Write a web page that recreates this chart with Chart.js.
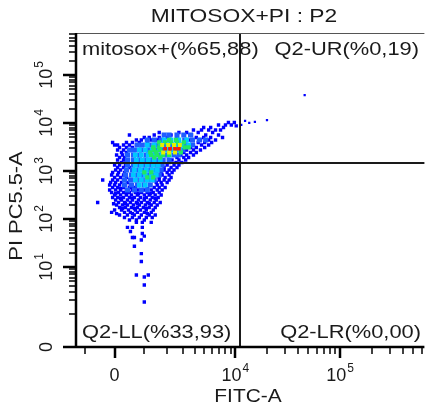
<!DOCTYPE html>
<html>
<head>
<meta charset="utf-8">
<script src="https://cdn.jsdelivr.net/npm/chart.js@4.4.1/dist/chart.umd.min.js"></script>
<style>
  html, body { margin: 0; padding: 0; background: #fff; }
</style>
</head>
<body>
<canvas id="plot" width="428" height="412"></canvas>
<script>
// ---- data: FITC-A (x) and PI PC5.5-A (y) events, grouped by density colour ----
// each row: [PI value, [FITC values...]]
const blueRows = [
    [10240, [8577, 9780]], [9100, [6874, 8030, 9150]], [8700, [10200]],
    [8060, [4915, 5760, 7686]], [7150, [3882, 4680, 5503, 6430, 7190]],
    [6340, [1624, 2740, 3305, 4336, 6020]],
    [5620, [471, 1397, 1867, 2247, 3086, 3710, 5150, 6874]],
    [4990, [993, 1187, 1624, 2025, 2611, 4150, 4915, 5760, 7520]],
    [4430, [705, 882, 1269, 1531, 3467, 4565, 5503, 6430]],
    [3930, [-62, 374, 570, 810, 1109, 4336, 5030, 5890]],
    [3480, [0, 93, 280, 471, 705, 3882, 4680, 5503]],
    [3090, [155, 374, 570, 3625, 4150, 5030]],
    [2740, [93, 280, 471, 3305, 3882, 4565]],
    [2430, [217, 374, 3086, 3625, 4150]],
    [2155, [62, 248, 406, 2873, 3305, 3882]],
    [1910, [155, 311, 2611, 3086, 3467]],
    [1695, [93, 280, 438, 2306, 2740, 3230]],
    [1504, [217, 374, 2134, 2548, 2942]],
    [1334, [0, 155, 342, 2025, 2425, 2740]],
    [1183, [93, 280, 471, 1867, 2247, 2611]],
    [1049, [31, 186, 374, 1867, 2134, 2425]],
    [931, [-62, 124, 311, 1719, 2025, 2306]],
    [826, [-93, 93, 280, 1768, 2134]],
    [732, [0, 186, 374, 1624, 1919, 2247]],
    [650, [-375, -62, 93, 280, 1624, 1867, 2134]],
    [576, [-124, 31, 217, 406, 1486, 1719, 2025]],
    [511, [-155, 0, 155, 342, 504, 1531, 1768]],
    [453, [-62, 93, 280, 471, 671, 1397, 1624, 1919]],
    [428, [186, 570, 1109]],
    [402, [-155, 31, 186, 374, 570, 775, 993, 1269, 1531, 1768]],
    [357, [-93, 124, 280, 471, 671, 882, 1109, 1354, 1624]],
    [336, [31, 374, 775, 1228]],
    [316, [0, 186, 374, 537, 740, 993, 1187, 1441, 1719]],
    [281, [-62, 93, 280, 471, 637, 846, 1070, 1311, 1577]],
    [265, [186, 570, 993, 1441]],
    [249, [31, 217, 406, 570, 775, 993, 1228, 1486]],
    [221, [-540, 124, 311, 504, 705, 882, 1109, 1397, 1671]],
    [208, [-31, 342, 740, 1187]],
    [196, [62, 248, 406, 603, 810, 1031, 1269, 1531]],
    [174, [155, 342, 537, 740, 955, 1187, 1441]],
    [164, [248, 637, 1070]],
    [154, [0, 217, 438, 671, 846, 1070, 1354]],
    [137, [-93, 311, 504, 740, 993, 1269]],
    [129, [62, 570, 1109]],
    [121, [155, 406, 637, 882, 1187, 1441]],
    [107, [311, 570, 810, 1070, 1311]],
    [95, [471, 705, 993]], [85, [705, 918, 1269]], [67, [406, 570, 918]],
    [55, [504]], [50, [918]], [44, [993]], [41, [570, 637]], [36.5, [882]],
    [27, [637]], [19, [882]], [13, [882]], [6.8, [705, 1148]], [6.2, [993]],
    [4.2, [993]], [1.84, [993]]
];
const azureRows = [
    [5620, [1867, 2134, 2611, 3086, 3625]],
    [4430, [1109, 1397, 1719, 2134, 2611, 3158, 3795, 4450, 5150]],
    [3480, [740, 918, 1187, 1486, 1867, 2247, 2740, 3230, 3795]],
    [2740, [471, 637, 882, 1148, 1441, 1768, 2134, 2548, 3013]],
    [2155, [406, 603, 810, 1070, 1354, 1671, 2025, 2425, 2740]],
    [1695, [406, 603, 810, 1031, 1269, 1531, 1817, 2134]],
    [1334, [406, 603, 810, 1031, 1269, 1531, 1768]],
    [1049, [374, 570, 775, 993, 1228, 1486, 1719]],
    [826, [342, 537, 740, 955, 1187, 1441, 1624]],
    [650, [311, 504, 705, 918, 1148, 1397]],
    [511, [311, 537, 740, 993, 1228]],
    [402, [406, 637, 882, 1109]]
];
const cyanRows = [
    [4430, [1867, 2247, 2740, 3305]],
    [3480, [1109, 1397, 1719, 2079, 2486, 2942, 3467]],
    [2740, [810, 1031, 1311, 1624, 1972, 2365, 2806]],
    [2155, [671, 882, 1148, 1441, 1768, 2134]],
    [1695, [705, 918, 1148, 1397, 1671]],
    [1334, [671, 882, 1109, 1354, 1577]],
    [1049, [637, 846, 1070, 1311, 1531]],
    [826, [603, 810, 1031, 1269, 1486]],
    [650, [671, 882, 1109, 1311]],
    [511, [810, 1031]]
];
const greenRows = [
    [4430, [2134, 2548]],
    [3930, [1624, 1919, 2247, 2611, 3086]],
    [3090, [1354, 1624, 3158, 3467]],
    [2740, [1397, 1671]],
    [2430, [1228, 1486, 2873]],
    [2155, [1269, 1531, 1817, 2134]],
    [1910, [1397, 1671]],
    [931, [993, 1269]],
    [732, [1109, 1354]]
];
const yellowRows = [
    [3480, [1768, 2079, 2425, 2806]],
    [2430, [1817, 2134, 2486]]
];
const redRows = [
    [2900, [1919, 2190, 2486, 2740]]
];
// events right of the FITC gate (Q2-UR): [FITC, PI]
const urEvents = [[11400, 9100], [12400, 11000], [13600, 10000], [15400, 10500], [20100, 11500], [46000, 38000]];

// gates and quadrant percentages
const gateFitc = 11000;
const gatePi = 1500;
const quadLabels = ['mitosox+(%65,88)', 'Q2-UR(%0,19)', 'Q2-LL(%33,93)', 'Q2-LR(%0,00)'];

// axis ticks
const xTickValues = [0, 10000, 100000];
const xTickExps = [null, 4, 5];
const yTickValues = [0, 10, 100, 1000, 10000, 100000];
const yTickExps = [null, 1, 2, 3, 4, 5];

/* ---- biexponential (arcsinh) scale ---- */
class BiexScale extends Chart.LinearScale {
    static id = 'biex';
    static defaults = {};
    tf(v) { return Math.asinh(v / this.options.cofactor); }
    getPixelForValue(v) {
        const a = this.tf(this.min), b = this.tf(this.max);
        return this.getPixelForDecimal((this.tf(v) - a) / (b - a));
    }
    getValueForPixel(px) {
        const a = this.tf(this.min), b = this.tf(this.max);
        return this.options.cofactor * Math.sinh(a + this.getDecimalForPixel(px) * (b - a));
    }
}
Chart.register(BiexScale);

const rowsToPoints = rows => rows.flatMap(([pi, list]) => list.map(f => ({ x: f, y: pi })));

function layer(data, color, radius, order) {
    return {
        data, order,
        pointStyle: 'rect',
        pointRadius: radius,
        pointBackgroundColor: color,
        pointBorderWidth: 0,
        pointHoverRadius: radius
    };
}

const FONT = '"Liberation Sans", Arial, sans-serif';

function txt(ctx, s, x, y, size, align, sx) {
    ctx.save();
    ctx.translate(x, y);
    ctx.scale(sx || 1, 1);
    ctx.font = size + 'px ' + FONT;
    ctx.textAlign = align;
    ctx.textBaseline = 'alphabetic';
    ctx.fillText(s, 0, 0);
    ctx.restore();
}

// "10" with raised exponent, centred on (0, 0) in the current frame
function powLabel(ctx, exp) {
    ctx.font = '18px ' + FONT;
    const wb = ctx.measureText('10').width;
    ctx.font = '12px ' + FONT;
    const we = ctx.measureText(String(exp)).width;
    const x0 = -(wb + we + 1) / 2;
    ctx.textAlign = 'left';
    ctx.textBaseline = 'alphabetic';
    ctx.font = '18px ' + FONT;
    ctx.fillText('10', x0, 0);
    ctx.font = '12px ' + FONT;
    ctx.fillText(String(exp), x0 + wb + 1, -9);
}

const flowAxes = {
    id: 'flowAxes',
    afterDatasetsDraw(chart) {
        const { ctx, chartArea: ca, scales: { x, y } } = chart;
        ctx.save();
        ctx.strokeStyle = '#1a1a1a';
        ctx.lineWidth = 2;
        const gx = Math.round(x.getPixelForValue(gateFitc));
        const gy = Math.round(y.getPixelForValue(gatePi));
        ctx.beginPath();
        ctx.moveTo(gx, ca.top); ctx.lineTo(gx, ca.bottom);
        ctx.moveTo(ca.left, gy); ctx.lineTo(ca.right, gy);
        ctx.stroke();
        ctx.restore();
    },
    afterDraw(chart) {
        const { ctx, chartArea: ca, scales: { x, y } } = chart;
        ctx.save();
        ctx.strokeStyle = '#000';
        ctx.fillStyle = '#1a1a1a';
        const line = (x1, y1, x2, y2, w) => {
            ctx.lineWidth = w;
            ctx.beginPath(); ctx.moveTo(x1, y1); ctx.lineTo(x2, y2); ctx.stroke();
        };
        // frame
        ctx.strokeStyle = '#555';
        line(ca.left, ca.top + 0.5, ca.right, ca.top + 0.5, 1);
        ctx.strokeStyle = '#000';
        line(ca.left, ca.top, ca.left, ca.bottom + 1, 2.5);
        line(ca.left, ca.bottom, ca.right, ca.bottom, 2.5);

        // y ticks
        yTickValues.forEach(v => {
            const p = Math.round(y.getPixelForValue(v));
            line(ca.left - 13, p, ca.left, p, 2.5);
        });
        for (let e = 0; e <= 5; e++) {
            for (let m = 1; m <= 9; m++) {
                if (m === 1 && e > 0) continue;
                const v = m * 10 ** e;
                if (v > y.max) continue;
                const p = Math.round(y.getPixelForValue(v));
                line(ca.left - 7, p, ca.left, p, 1.5);
            }
        }
        // x ticks
        xTickValues.forEach(v => {
            const p = Math.round(x.getPixelForValue(v));
            line(p, ca.bottom, p, ca.bottom + 11, 2.5);
        });
        const xMinor = [-1000];
        for (let e = 3; e <= 5; e++) {
            for (let m = 1; m <= 9; m++) {
                if (m === 1 && e > 3) continue;
                const v = m * 10 ** e;
                if (v <= x.max) xMinor.push(v);
            }
        }
        xMinor.forEach(v => {
            const p = Math.round(x.getPixelForValue(v));
            line(p, ca.bottom, p, ca.bottom + 7, 1.5);
        });

        // y tick labels (rotated)
        yTickValues.forEach((v, i) => {
            const p = y.getPixelForValue(v);
            ctx.save();
            ctx.translate(52, p);
            ctx.rotate(-Math.PI / 2);
            if (yTickExps[i] === null) {
                ctx.font = '18px ' + FONT;
                ctx.textAlign = 'center';
                ctx.fillText('0', 0, 0);
            } else {
                powLabel(ctx, yTickExps[i]);
            }
            ctx.restore();
        });
        // x tick labels
        xTickValues.forEach((v, i) => {
            const p = x.getPixelForValue(v);
            ctx.save();
            ctx.translate(p, 381);
            if (xTickExps[i] === null) {
                ctx.font = '18px ' + FONT;
                ctx.textAlign = 'center';
                ctx.fillText('0', 0, 0);
            } else {
                powLabel(ctx, xTickExps[i]);
            }
            ctx.restore();
        });

        // titles
        txt(ctx, 'MITOSOX+PI : P2', 244, 22, 19, 'center', 1.2);
        txt(ctx, 'FITC-A', 248, 402, 19, 'center', 1.1);
        ctx.save();
        ctx.translate(22, 206);
        ctx.rotate(-Math.PI / 2);
        txt(ctx, 'PI PC5.5-A', 0, 0, 19, 'center', 1.15);
        ctx.restore();

        // quadrant labels
        txt(ctx, quadLabels[0], 82, 55, 19, 'left', 1.15);
        txt(ctx, quadLabels[1], 419, 55, 19, 'right', 1.15);
        txt(ctx, quadLabels[2], 82, 338, 19, 'left', 1.15);
        txt(ctx, quadLabels[3], 421, 338, 19, 'right', 1.15);
        ctx.restore();
    }
};

new Chart(document.getElementById('plot'), {
    type: 'scatter',
    data: {
        datasets: [
            layer(rowsToPoints(redRows), '#ff1a00', 2.6, 1),
            layer(rowsToPoints(yellowRows), '#e4f000', 2.8, 2),
            layer(rowsToPoints(greenRows), '#20e860', 3.0, 3),
            layer(rowsToPoints(cyanRows), '#00c8ff', 3.4, 4),
            layer(rowsToPoints(azureRows), '#1f5cff', 3.6, 5),
            layer(rowsToPoints(blueRows), '#0000ff', 2.4, 6),
            layer(urEvents.map(([f, p]) => ({ x: f, y: p })), '#0000ff', 1.6, 7)
        ]
    },
    options: {
        responsive: false,
        animation: false,
        devicePixelRatio: 1,
        layout: { padding: { left: 76, top: 33, right: 0, bottom: 65 } },
        scales: {
            x: { type: 'biex', cofactor: 1420, min: -1352, max: 637000, display: false },
            y: { type: 'biex', cofactor: 0.431, min: 0, max: 748000, display: false }
        },
        plugins: {
            legend: { display: false },
            tooltip: { enabled: false }
        }
    },
    plugins: [flowAxes]
});
</script>
</body>
</html>
